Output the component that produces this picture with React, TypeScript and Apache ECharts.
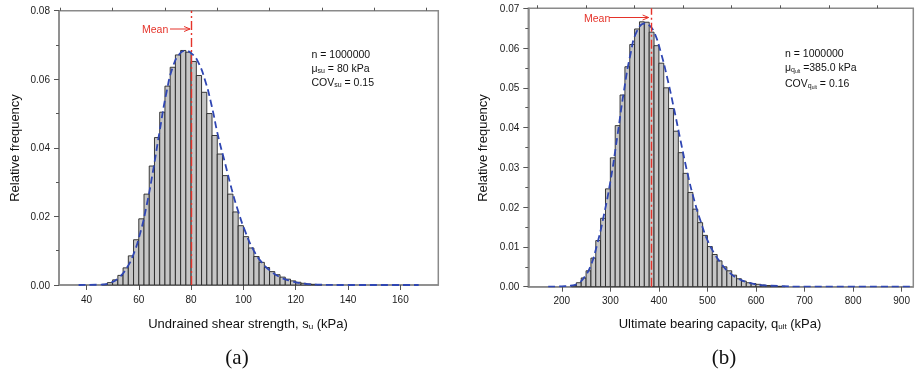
import React, { useEffect, useRef } from "react";
import * as echarts from "echarts";

// ---- Data: (a) undrained shear strength histogram (bin width 2 kPa) ----
const suBinWidth = 2;
const suBins = [46, 48, 50, 52, 54, 56, 58, 60, 62, 64, 66, 68, 70, 72, 74, 76, 78, 80, 82, 84, 86, 88, 90, 92, 94, 96, 98, 100, 102, 104, 106, 108, 110, 112, 114, 116, 118, 120, 122, 124, 126, 128];
const suFreq = [0.0002, 0.0007, 0.0015, 0.0028, 0.005, 0.0085, 0.0132, 0.0193, 0.0265, 0.0347, 0.043, 0.0504, 0.058, 0.0635, 0.0671, 0.0684, 0.0679, 0.0652, 0.0611, 0.0562, 0.05, 0.0436, 0.0382, 0.0319, 0.0265, 0.0213, 0.0173, 0.0141, 0.0108, 0.0083, 0.0066, 0.0051, 0.0039, 0.003, 0.0023, 0.0017, 0.0012, 0.0008, 0.0005, 0.0003, 0.0002, 0.0001];
const suCurveX = [37, 45, 49, 52.5, 55.5, 58, 60.5, 63, 65.5, 68, 70.6, 73.1, 75.7, 77.8, 80.2, 82.7, 85.3, 87.8, 90.4, 93, 95.5, 98, 100.5, 103.7, 107, 110.5, 114, 118, 123, 129, 140, 167];
const suCurveY = [0, 0.0001, 0.0006, 0.0022, 0.0051, 0.009, 0.015, 0.0232, 0.0335, 0.045, 0.0562, 0.0638, 0.0675, 0.0683, 0.0675, 0.065, 0.0598, 0.0525, 0.0432, 0.0355, 0.028, 0.0215, 0.016, 0.0104, 0.0066, 0.004, 0.0023, 0.0012, 0.0004, 0.0001, 0, 0];
const suMean = 80;
const suMajorTicks = [40, 60, 80, 100, 120, 140, 160];
const suMinorTicks = [30, 50, 70, 90, 110, 130, 150, 170];

// ---- Data: (b) ultimate bearing capacity histogram (bin width 10 kPa) ----
const qBinWidth = 10;
const qBins = [220, 230, 240, 250, 260, 270, 280, 290, 300, 310, 320, 330, 340, 350, 360, 370, 380, 390, 400, 410, 420, 430, 440, 450, 460, 470, 480, 490, 500, 510, 520, 530, 540, 550, 560, 570, 580, 590, 600, 610, 620, 630, 640, 650];
const qFreq = [0.0003, 0.001, 0.0022, 0.004, 0.0072, 0.0116, 0.0172, 0.0246, 0.0324, 0.0405, 0.0482, 0.0553, 0.0609, 0.0648, 0.0666, 0.0665, 0.064, 0.0606, 0.0562, 0.05, 0.0448, 0.0391, 0.0337, 0.0285, 0.0237, 0.0195, 0.0161, 0.0129, 0.0101, 0.0081, 0.0065, 0.005, 0.004, 0.0029, 0.002, 0.0014, 0.001, 0.0008, 0.0006, 0.0004, 0.0003, 0.0002, 0.0001, 0.0001];
const qCurveX = [172, 200, 220, 234.5, 247, 258.7, 272.5, 286, 300, 314, 327.7, 341.5, 355, 371.5, 379.4, 389.8, 403.6, 417.4, 431, 445, 459, 472.6, 486.4, 500, 514, 528, 541, 562, 583, 610, 645, 700, 920];
const qCurveY = [0, 0.0001, 0.0003, 0.0009, 0.0025, 0.005, 0.0105, 0.0176, 0.0264, 0.0375, 0.049, 0.0585, 0.0643, 0.0662, 0.0658, 0.0641, 0.0591, 0.0524, 0.0448, 0.0365, 0.0285, 0.0218, 0.0163, 0.0117, 0.0084, 0.0059, 0.004, 0.0021, 0.0011, 0.0004, 0.0002, 0, 0];
const qMean = 385;
const qMajorTicks = [200, 300, 400, 500, 600, 700, 800, 900];
const qMinorTicks = [150, 250, 350, 450, 550, 650, 750, 850];

const FONT = "'Liberation Sans', Arial, sans-serif";
const SERIF = "'Liberation Serif', 'Times New Roman', serif";
const AXIS_GRAY = "#8a8a8a";
const RED = "#e5332a";
const BLUE = "#2f46b3";

function histRender(binWidth: number) {
  return (params: any, api: any) => {
    const x0 = api.value(0);
    const y = api.value(1);
    const p0 = api.coord([x0, y]);
    const p1 = api.coord([x0 + binWidth, 0]);
    return {
      type: "rect",
      shape: { x: p0[0], y: p0[1], width: p1[0] - p0[0], height: p1[1] - p0[1] },
      style: { fill: "#c6c6c6", stroke: "#262626", lineWidth: 0.9 },
    };
  };
}

function majorX(gridIndex: number, min: number, max: number, ticks: number[]) {
  return {
    type: "value",
    gridIndex,
    min,
    max,
    axisLine: { show: true, lineStyle: { color: AXIS_GRAY, width: 1.5 } },
    axisTick: { show: true, length: 5, customValues: ticks, lineStyle: { color: "#555", width: 1 } },
    axisLabel: { show: true, customValues: ticks, fontSize: 10, fontFamily: FONT, color: "#1a1a1a", margin: 9 },
    splitLine: { show: false },
  };
}

function minorX(gridIndex: number, min: number, max: number, ticks: number[]) {
  return {
    type: "value",
    gridIndex,
    min,
    max,
    axisLine: { show: false },
    axisTick: { show: true, length: 3, customValues: ticks, lineStyle: { color: "#555", width: 1 } },
    axisLabel: { show: false, customValues: ticks },
    splitLine: { show: false },
  };
}

function yAx(gridIndex: number, max: number, interval: number) {
  return {
    type: "value",
    gridIndex,
    min: 0,
    max,
    interval,
    axisLine: { show: true, lineStyle: { color: AXIS_GRAY, width: 1.5 } },
    axisTick: { show: true, length: 5, lineStyle: { color: "#555", width: 1 } },
    minorTick: { show: true, splitNumber: 2, length: 3, lineStyle: { color: "#555", width: 1 } },
    axisLabel: {
      fontSize: 10,
      fontFamily: FONT,
      color: "#1a1a1a",
      margin: 9,
      formatter: (v: number) => v.toFixed(2),
    },
    splitLine: { show: false },
  };
}

export default function App() {
  const ref = useRef<HTMLDivElement>(null);

  useEffect(() => {
    if (!ref.current) return;
    const chart = echarts.init(ref.current, null, { renderer: "svg" });

    const meanLine = (value: number) => ({
      symbol: "none",
      silent: true,
      label: { show: false },
      lineStyle: { color: RED, type: [9, 3, 2, 3], width: 1.4 },
      data: [{ xAxis: value }],
    });

    chart.setOption({
      animation: false,
      grid: [
        { left: 59, top: 10.7, width: 379.3, height: 274.3, show: true, borderColor: AXIS_GRAY, borderWidth: 1.5, backgroundColor: "transparent" },
        { left: 528.3, top: 8.3, width: 385, height: 278.4, show: true, borderColor: AXIS_GRAY, borderWidth: 1.5, backgroundColor: "transparent" },
      ],
      xAxis: [
        majorX(0, 29.5, 174.5, suMajorTicks),
        minorX(0, 29.5, 174.5, suMinorTicks),
        majorX(1, 131, 924, qMajorTicks),
        minorX(1, 131, 924, qMinorTicks),
      ],
      yAxis: [yAx(0, 0.08, 0.02), yAx(1, 0.07, 0.01)],
      series: [
        {
          type: "custom",
          xAxisIndex: 0,
          yAxisIndex: 0,
          renderItem: histRender(suBinWidth),
          encode: { x: 0, y: 1 },
          data: suBins.map((b, i) => [b, suFreq[i]]),
          markLine: meanLine(suMean),
          z: 2,
        },
        {
          type: "line",
          xAxisIndex: 0,
          yAxisIndex: 0,
          smooth: true,
          symbol: "none",
          lineStyle: { color: BLUE, width: 1.8, type: [7, 4] },
          data: suCurveX.map((x, i) => [x, suCurveY[i]]),
          z: 3,
        },
        {
          type: "custom",
          xAxisIndex: 2,
          yAxisIndex: 1,
          renderItem: histRender(qBinWidth),
          encode: { x: 0, y: 1 },
          data: qBins.map((b, i) => [b, qFreq[i]]),
          markLine: meanLine(qMean),
          z: 2,
        },
        {
          type: "line",
          xAxisIndex: 2,
          yAxisIndex: 1,
          smooth: true,
          symbol: "none",
          lineStyle: { color: BLUE, width: 1.8, type: [7, 4] },
          data: qCurveX.map((x, i) => [x, qCurveY[i]]),
          z: 3,
        },
      ],
    });

    const m1 = chart.convertToPixel({ xAxisIndex: 0 }, suMean) as number;
    const m2 = chart.convertToPixel({ xAxisIndex: 2 }, qMean) as number;

    const txt = (x: number, y: number, text: string, extra: any = {}, el: any = {}) => ({
      type: "text",
      x,
      y,
      silent: true,
      ...el,
      style: {
        text,
        fontFamily: FONT,
        fontSize: 10.5,
        fill: "#111",
        align: "left",
        verticalAlign: "middle",
        textAlign: "left",
        textVerticalAlign: "middle",
        ...extra,
      },
    });

    const subRich = {
      s: { fontSize: 7, fontFamily: FONT, fill: "#111", padding: [6, 0, 0, 0] },
      ss: { fontSize: 5, fontFamily: FONT, fill: "#111", padding: [9, 0, 0, 0] },
    };
    const titleRich = { s: { fontSize: 8, fontFamily: FONT, fill: "#111", padding: [7, 0, 0, 0] } };

    const arrow = (x0: number, x1: number, y: number) => [
      { type: "line", silent: true, shape: { x1: x0, y1: y, x2: x1, y2: y }, style: { stroke: RED, lineWidth: 1 } },
      { type: "polyline", silent: true, shape: { points: [[x1 - 6, y - 2.5], [x1, y], [x1 - 6, y + 2.5]] }, style: { stroke: RED, lineWidth: 1, fill: "none" } },
    ];

    const center = { align: "center", textAlign: "center" };

    chart.setOption({
      graphic: [
        // Panel (a) annotations
        txt(142, 29, "Mean", { fill: RED }),
        ...arrow(170, m1 - 1, 29),
        txt(311.5, 54, "n = 1000000"),
        txt(311.5, 67.5, "μ{s|su} = 80 kPa", { rich: subRich }),
        txt(311.5, 81.5, "COV{s|su} = 0.15", { rich: subRich }),
        // Panel (b) annotations
        txt(584, 17.5, "Mean", { fill: RED }),
        ...arrow(609, m2 - 3, 17.5),
        txt(785, 52.7, "n = 1000000"),
        txt(785, 66.5, "μ{s|q}{ss|ult} =385.0 kPa", { rich: subRich }),
        txt(785, 82.5, "COV{s|q}{ss|ult} = 0.16", { rich: subRich }),
        // Axis titles
        txt(14, 148, "Relative frequency", { fontSize: 13, ...center }, { rotation: Math.PI / 2 }),
        txt(482, 148, "Relative frequency", { fontSize: 13, ...center }, { rotation: Math.PI / 2 }),
        txt(248, 323, "Undrained shear strength, s{s|u} (kPa)", { fontSize: 13, ...center, rich: titleRich }),
        txt(720, 323, "Ultimate bearing capacity, q{s|ult} (kPa)", { fontSize: 13, ...center, rich: titleRich }),
        // Captions
        txt(237, 357, "(a)", { fontSize: 21, fontFamily: SERIF, ...center }),
        txt(724, 357, "(b)", { fontSize: 21, fontFamily: SERIF, ...center }),
      ],
    });

    return () => chart.dispose();
  }, []);

  return <div ref={ref} style={{ position: "fixed", left: 0, top: 0, width: 916, height: 377 }} />;
}
